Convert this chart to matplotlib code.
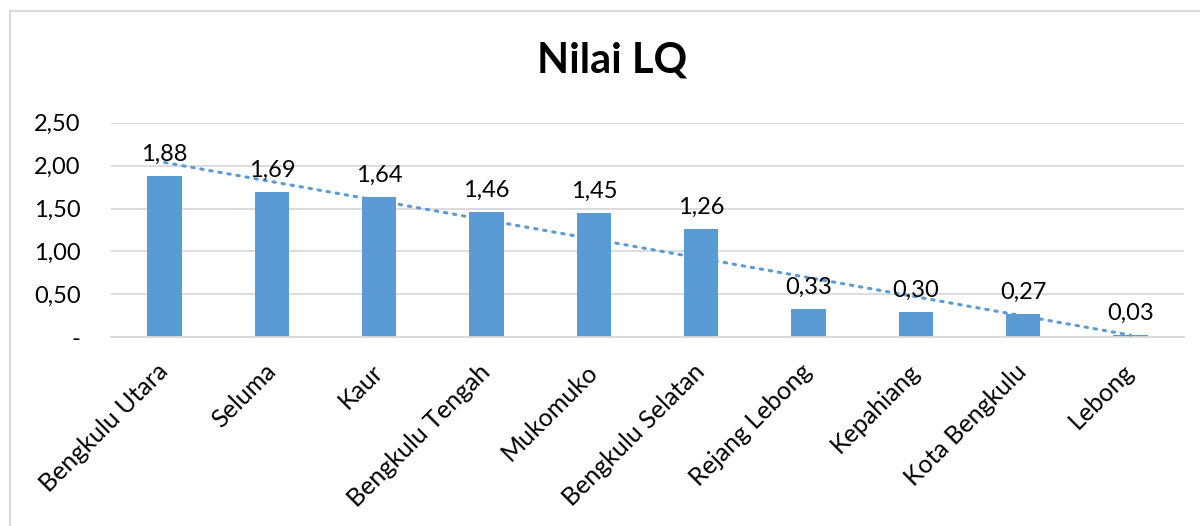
import numpy as np
import matplotlib
matplotlib.use("Agg")
import matplotlib.pyplot as plt
from matplotlib.lines import Line2D

categories = ["Bengkulu Utara", "Seluma", "Kaur", "Bengkulu Tengah", "Mukomuko",
              "Bengkulu Selatan", "Rejang Lebong", "Kepahiang", "Kota Bengkulu", "Lebong"]
values = [1.88, 1.69, 1.64, 1.46, 1.45, 1.26, 0.33, 0.30, 0.27, 0.03]
yticks = [0, 0.5, 1.0, 1.5, 2.0, 2.5]
ytick_labels = ["-", "0,50", "1,00", "1,50", "2,00", "2,50"]
title = "Nilai LQ"

plt.rcParams['font.family'] = ['Lato', 'DejaVu Sans']
bar_color = "#5B9BD5"

fig = plt.figure(figsize=(12, 5.26), dpi=100)
ax = fig.add_axes([111/1200, 1-337.3/526, (1184-111)/1200, (337.3-122.7)/526])

x = np.arange(len(categories))
ax.bar(x, values, width=0.32, color=bar_color, zorder=2)

# linear trendline
xs = x + 1
coef = np.polyfit(xs, values, 1)
trend = np.polyval(coef, xs)
ax.plot(x, trend, linestyle=(0, (0.8, 2.2)), color=bar_color, linewidth=2.2,
        dash_capstyle='round', zorder=3)

for xi, v in zip(x, values):
    ax.annotate(f"{v:.2f}".replace(".", ","), (xi, v), xytext=(0, 8),
                textcoords="offset points", ha="center", va="bottom",
                fontsize=17, color="#000000", zorder=4)

ax.set_xlim(-0.5, len(categories) - 0.5)
ax.set_ylim(0, 2.5)
ax.set_yticks(yticks)
ax.set_yticklabels(ytick_labels, fontsize=17)
ax.grid(axis="y", color="#D9D9D9", linewidth=1.3, zorder=0)
ax.set_axisbelow(True)
for s in ["top", "right", "left"]:
    ax.spines[s].set_visible(False)
ax.spines["bottom"].set_color("#D9D9D9")
ax.spines["bottom"].set_linewidth(1.3)
ax.tick_params(axis="y", length=0, pad=22)
ax.tick_params(axis="x", length=0, pad=22)
ax.set_xticks(x)
ax.set_xticklabels(categories, rotation=45, ha="right", va="center",
                   rotation_mode="anchor", fontsize=18)

fig.text(612/1200, 1-61/526, title, ha="center", va="center",
         fontsize=30, fontweight="bold")

# chart border (top and left visible)
fig.add_artist(Line2D([10/1200, 1], [1-11/526, 1-11/526], color="#D9D9D9", linewidth=1.5,
                      transform=fig.transFigure))
fig.add_artist(Line2D([10/1200, 10/1200], [0, 1-11/526], color="#D9D9D9", linewidth=1.5,
                      transform=fig.transFigure))

fig.savefig("out.png", dpi=100)
